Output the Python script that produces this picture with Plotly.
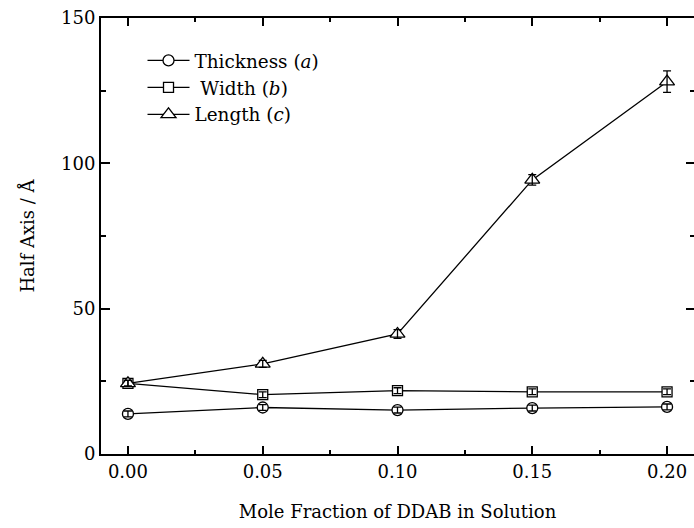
import plotly.graph_objects as go

# ---- data ----
x_frac = [0.00, 0.05, 0.10, 0.15, 0.20]
thickness = [13.8, 16.0, 15.1, 15.8, 16.2]
thickness_err = [1.0, 1.0, 1.0, 1.0, 1.0]
width_b = [24.3, 20.4, 21.8, 21.4, 21.4]
width_err = [1.0, 1.0, 1.0, 1.0, 1.0]
length_c = [24.3, 31.0, 41.3, 94.3, 128.1]
length_err = [1.0, 1.2, 1.5, 1.8, 3.7]
names = ["Thickness (<i>a</i>)", " Width (<i>b</i>)", "Length (<i>c</i>)"]
x_ticks = [0.00, 0.05, 0.10, 0.15, 0.20]
x_ticklabels = ["0.00", "0.05", "0.10", "0.15", "0.20"]
y_ticks = [0, 50, 100, 150]

FONT = "DejaVu Serif"
series = [
    (thickness, thickness_err, "circle", 11),
    (width_b, width_err, "square", 10),
    (length_c, length_err, "triangle-up", 13),
]

fig = go.Figure()
for (vals, errs, sym, sz), nm in zip(series, names):
    fig.add_trace(go.Scatter(
        x=x_frac, y=vals, mode="lines+markers", name=nm,
        line=dict(color="black", width=1.3),
        marker=dict(symbol=sym, size=sz, color="white",
                    line=dict(color="black", width=1.3)),
    ))
for (vals, errs, sym, sz) in series:
    fig.add_trace(go.Scatter(
        x=x_frac, y=vals, mode="markers", showlegend=False,
        marker=dict(size=1, color="rgba(0,0,0,0)"),
        error_y=dict(type="data", array=errs, visible=True,
                     color="black", thickness=1.3, width=4),
        hoverinfo="skip",
    ))
# invisible trace to carry right-hand tick axis
fig.add_trace(go.Scatter(x=[x_frac[0]], y=[0], yaxis="y2", mode="markers",
                         marker=dict(size=1, color="rgba(0,0,0,0)"),
                         showlegend=False, hoverinfo="skip"))

fig.update_layout(
    width=694, height=528,
    margin=dict(l=101, r=0, t=18, b=74),
    paper_bgcolor="white", plot_bgcolor="white",
    font=dict(family=FONT, size=18, color="black"),
    showlegend=True,
    legend=dict(x=0.07, y=0.945, xanchor="left", yanchor="top",
                bgcolor="rgba(0,0,0,0)", font=dict(size=18.4, family=FONT),
                itemwidth=42, tracegroupgap=0),
    xaxis=dict(
        range=[-0.01, 0.21], tickvals=x_ticks, ticktext=x_ticklabels,
        showline=True, linecolor="black", linewidth=2, mirror="ticks",
        ticks="inside", ticklen=8, tickwidth=1.5, tickcolor="black",
        minor=dict(dtick=0.025, tick0=0, ticks="inside", ticklen=4,
                   tickwidth=1.5, tickcolor="black"),
        showgrid=False, zeroline=False,
        title=dict(text="Mole Fraction of DDAB in Solution", standoff=25,
                   font=dict(size=18)),
        tickfont=dict(size=18),
    ),
    yaxis=dict(
        range=[0, 150], tickvals=y_ticks,
        showline=True, linecolor="black", linewidth=2, mirror=False,
        ticks="inside", ticklen=9, tickwidth=1.5, tickcolor="black",
        minor=dict(dtick=25, tick0=0, ticks="inside", ticklen=5,
                   tickwidth=1.5, tickcolor="black"),
        showgrid=False, zeroline=False,
        title=dict(text="Half Axis / Å", standoff=22, font=dict(size=18)),
        tickfont=dict(size=18),
    ),
    yaxis2=dict(
        overlaying="y", side="right", range=[0, 150], tickvals=y_ticks,
        showline=False, showticklabels=False,
        ticks="inside", ticklen=8, tickwidth=1.5, tickcolor="black",
        minor=dict(dtick=25, tick0=0, ticks="inside", ticklen=4,
                   tickwidth=1.5, tickcolor="black"),
        showgrid=False, zeroline=False,
    ),
)

fig.write_html("out.html")
